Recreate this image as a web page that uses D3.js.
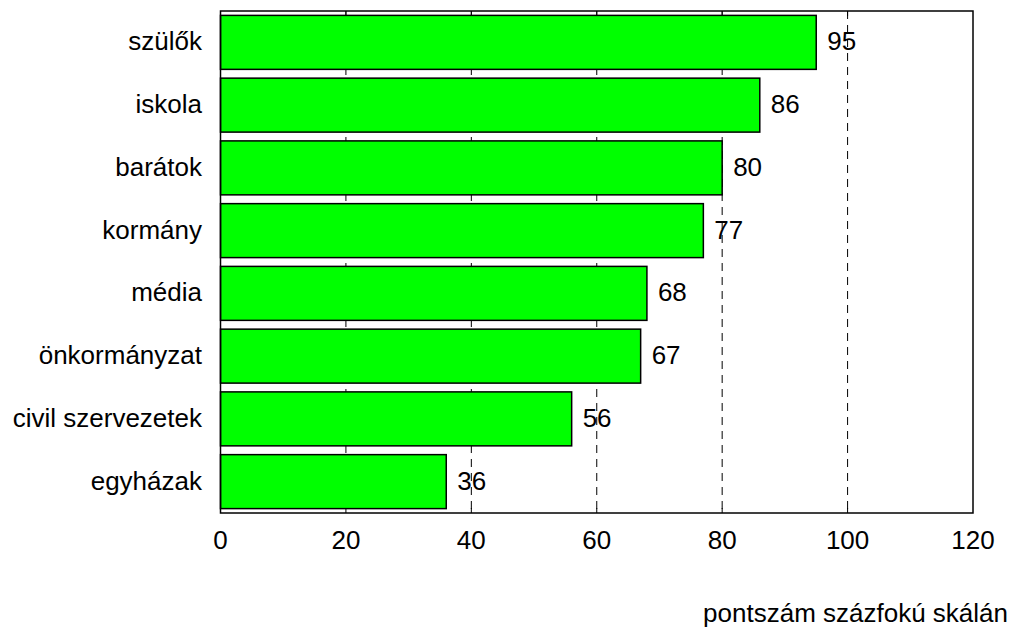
<!DOCTYPE html>
<html><head><meta charset="utf-8">
<script src="https://cdn.jsdelivr.net/npm/d3@7"></script>
<style>body{margin:0;background:#fff}text{font-family:"Liberation Sans",Arial,sans-serif;fill:#000}</style>
</head><body><svg id="c" width="1013" height="628"></svg>
<script>
const categories = ["szülők","iskola","barátok","kormány","média","önkormányzat","civil szervezetek","egyházak"];
const values = [95,86,80,77,68,67,56,36];
const xTicks = [0,20,40,60,80,100,120];
const axisTitle = "pontszám százfokú skálán";

const svg = d3.select("#c");
const m = {l:220.5, r:973, t:11, b:513};
const x = d3.scaleLinear().domain([0,120]).range([m.l, m.r]);
const y = d3.scaleBand().domain(categories).range([m.t, m.b]).paddingInner(0.14).paddingOuter(0.07);
const fs = 26;

// gridlines
svg.append("g").selectAll("line").data(xTicks.filter(d=>d>0&&d<120)).join("line")
  .attr("x1",d=>x(d)).attr("x2",d=>x(d)).attr("y1",m.t).attr("y2",m.b)
  .attr("stroke","#000").attr("stroke-width",1).attr("stroke-dasharray","8,6");

// bars
svg.append("g").selectAll("rect").data(values).join("rect")
  .attr("x",x(0)).attr("y",(d,i)=>y(categories[i]))
  .attr("width",d=>x(d)-x(0)).attr("height",y.bandwidth())
  .attr("fill","#00ff00").attr("stroke","#000").attr("stroke-width",1.5);

// frame
svg.append("rect").attr("x",m.l).attr("y",m.t).attr("width",m.r-m.l).attr("height",m.b-m.t)
  .attr("fill","none").attr("stroke","#000").attr("stroke-width",1.5);

// axis ticks inward top & bottom
const tk = svg.append("g");
xTicks.filter(d=>d>0&&d<120).forEach(d=>{
  tk.append("line").attr("x1",x(d)).attr("x2",x(d)).attr("y1",m.b).attr("y2",m.b-5).attr("stroke","#000").attr("stroke-width",1);
  tk.append("line").attr("x1",x(d)).attr("x2",x(d)).attr("y1",m.t).attr("y2",m.t+5).attr("stroke","#000").attr("stroke-width",1);
});

// x tick labels
svg.append("g").selectAll("text").data(xTicks).join("text")
  .attr("x",d=>x(d)).attr("y",549).attr("text-anchor","middle").attr("font-size",fs).text(d=>d);

// category labels
svg.append("g").selectAll("text").data(categories).join("text")
  .attr("x",202).attr("y",d=>y(d)+y.bandwidth()/2).attr("dy","0.31em")
  .attr("text-anchor","end").attr("font-size",fs).text(d=>d);

// value labels
svg.append("g").selectAll("text").data(values).join("text")
  .attr("x",d=>x(d)+11).attr("y",(d,i)=>y(categories[i])+y.bandwidth()/2).attr("dy","0.31em")
  .attr("font-size",fs).text(d=>d);

svg.append("text").attr("x",1008).attr("y",622).attr("text-anchor","end").attr("font-size",fs).text(axisTitle);
</script></body></html>
